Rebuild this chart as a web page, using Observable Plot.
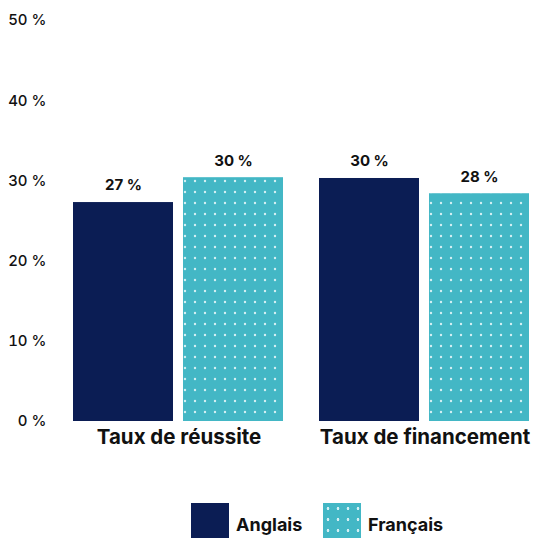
<!DOCTYPE html>
<html>
<head>
<meta charset="utf-8">
<script src="https://cdn.jsdelivr.net/npm/d3@7"></script>
<script src="https://cdn.jsdelivr.net/npm/@observablehq/plot@0.6"></script>
<style>
  html, body { margin: 0; padding: 0; background: #fff; }
  body { width: 539px; height: 538px; overflow: hidden; font-family: Inter, "Noto Sans", sans-serif; }
  #legend { position: relative; height: 67px; }
  .sw { position: absolute; top: 32px; width: 38px; height: 35px; }
  .lab { position: absolute; top: 44px; font-weight: 700; font-size: 18px; color: #111; line-height: 20px; }
</style>
</head>
<body>
<div id="chart"></div>
<div id="legend">
  <div class="sw" style="left:191px;background:#0b1d54"></div>
  <div class="lab" style="left:236px">Anglais</div>
  <div class="sw" style="left:323px;background-color:#43b7c5;background-image:radial-gradient(circle, #d4f0f4 1.2px, transparent 1.6px);background-size:10px 11px;background-position:0px 0px"></div>
  <div class="lab" style="left:368px">Français</div>
</div>
<script>
const groups = ["Taux de réussite", "Taux de financement"];
const series = ["Anglais", "Français"];
const anglais = [27.3, 30.3];
const francais = [30.4, 28.4];
const labelsAnglais = ["27 %", "30 %"];
const labelsFrancais = ["30 %", "28 %"];
const yTicks = [0, 10, 20, 30, 40, 50];

const data = [];
groups.forEach((g, i) => {
  data.push({group: g, serie: "Anglais", value: anglais[i], label: labelsAnglais[i]});
  data.push({group: g, serie: "Français", value: francais[i], label: labelsFrancais[i]});
});

const chart = Plot.plot({
  width: 539,
  height: 471,
  marginLeft: 73,
  marginRight: 8,
  marginTop: 20,
  marginBottom: 50,
  style: {fontFamily: "Inter, 'Noto Sans', sans-serif", fontSize: "14px", color: "#111"},
  fx: {domain: groups, paddingInner: 0.142, paddingOuter: 0, label: null},
  x: {domain: series, paddingInner: 0.09, paddingOuter: 0, axis: null},
  y: {domain: [0, 50], ticks: yTicks, label: null},
  marks: [
    Plot.axisY({ticks: yTicks, tickSize: 0, tickPadding: 27, tickFormat: d => `${d} %`, label: null, fontSize: 15, fontWeight: 500, fill: "#111"}),
    Plot.axisFx({anchor: "bottom", tickSize: 0, tickPadding: 8, fontSize: 20.5, fontWeight: 700, label: null, fill: "#111"}),
    Plot.barY(data.filter(d => d.serie === "Anglais"), {fx: "group", x: "serie", y: "value", fill: "#0b1d54"}),
    Plot.barY(data.filter(d => d.serie === "Français"), {fx: "group", x: "serie", y: "value", fill: "url(#dots)"}),
    Plot.text(data, {fx: "group", x: "serie", y: "value", text: "label", dy: -17, fontWeight: 700, fontSize: 15, fill: "#111"})
  ]
});

const ns = "http://www.w3.org/2000/svg";
const defs = document.createElementNS(ns, "defs");
defs.innerHTML = `<pattern id="dots" patternUnits="userSpaceOnUse" width="10" height="11">
  <rect width="10" height="11" fill="#43b7c5"></rect>
  <circle cx="5" cy="5" r="1.2" fill="#d4f0f4"></circle>
</pattern>`;
chart.insertBefore(defs, chart.firstChild);
document.getElementById("chart").appendChild(chart);
</script>
</body>
</html>
